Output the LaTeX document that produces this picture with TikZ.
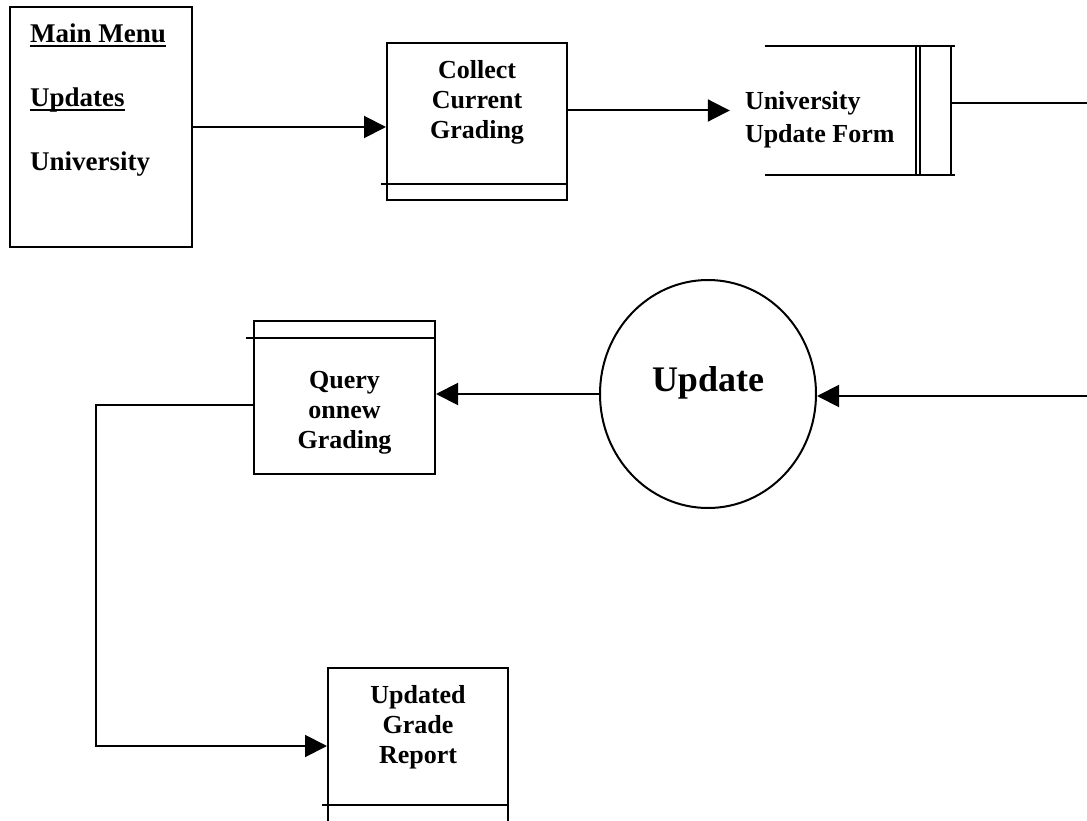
\documentclass[tikz,border=0pt]{standalone}
\usepackage{fontspec}
\setmainfont{Liberation Serif}
\usetikzlibrary{arrows.meta,positioning,shapes.geometric}
\newcommand{\menuul}[1]{{\setbox0=\hbox{#1}\rlap{\rule[-4.5pt]{\wd0}{2pt}}\box0}}
\tikzset{
    proc-box/.style = {draw, rectangle, line width=2pt, inner sep=0pt},
    store-line/.style = {line width=2pt},
    flow-arrow/.style = {line width=2pt, -{Triangle[length=22pt, width=22pt]}},
    box-text/.style = {inner sep=0pt, align=center, font=\fontsize{26}{30}\selectfont\bfseries},
    menu-text/.style = {inner sep=0pt, align=left, font=\fontsize{27}{64}\selectfont\bfseries},
    bubble/.style = {draw, ellipse, line width=2pt, minimum width=216pt, minimum height=228pt},
    bubble-text/.style = {inner sep=0pt, font=\fontsize{36}{40}\selectfont\bfseries},
}

\begin{document}
\begin{tikzpicture}[x=1pt, y=-1pt]
\useasboundingbox (0,0) rectangle (1087,821);

\node[proc-box, minimum width=182pt, minimum height=240pt] (menu) at (101,127) {};
\node[menu-text, below right=18pt and 21pt of menu.north west] (menu-items)
    {\menuul{Main Menu}\\\menuul{Updates}\\University};

\node[proc-box, minimum width=180pt, minimum height=157pt] (collect) at (477,121.5) {};
\node[box-text, below=18pt of collect.north] (collect-text) {Collect\\Current\\Grading};
\draw[store-line] ([xshift=-5pt, yshift=17pt]collect.south west) -- ([yshift=17pt]collect.south east);

\node[rectangle, inner sep=0pt, minimum width=206pt, minimum height=129pt] (form) at (848,110.5) {};
\node[box-text, align=left, font=\fontsize{26}{33}\selectfont\bfseries,
    below right=45pt and 0pt of form.north west] (form-text) {University\\Update Form};
\draw[store-line] ([xshift=20pt]form.north west) -- ([xshift=4pt]form.north east);
\draw[store-line] ([xshift=20pt]form.south west) -- ([xshift=4pt]form.south east);
\draw[store-line] ([xshift=-35pt]form.north east) -- ([xshift=-35pt]form.south east);
\draw[store-line] ([xshift=-31pt]form.north east) -- ([xshift=-31pt]form.south east);
\draw[store-line] (form.north east) -- (form.south east);

\node[bubble] (upd) at (708,394) {};
\node[bubble-text, anchor=base] (upd-text) at ([yshift=3pt]upd.center) {Update};

\node[proc-box, minimum width=181pt, minimum height=153pt] (query) at (344.5,397.5) {};
\node[box-text, below=51pt of query.north] (query-text) {Query\\onnew\\Grading};
\draw[store-line] ([xshift=-7pt, yshift=-18pt]query.north west) -- ([yshift=-18pt]query.north east);

\node[proc-box, minimum width=180pt, minimum height=156pt] (report) at (418,746) {};
\node[box-text, below=18pt of report.north] (report-text) {Updated\\Grade\\Report};
\draw[store-line] ([xshift=-5pt, yshift=20pt]report.south west) -- ([yshift=20pt]report.south east);

\coordinate (right-out) at (1087,103);
\coordinate (right-in) at (1087,396);
\draw[flow-arrow] (menu.east) -- (menu.east -| collect.west);
\draw[flow-arrow] (form.west -| collect.east) -- ([xshift=-15pt]form.west);
\draw[store-line] (form.east |- right-out) -- (right-out);
\draw[flow-arrow] (right-in) -- (right-in -| upd.east);
\draw[flow-arrow] (upd.west) -- (upd.west -| query.east);
\draw[flow-arrow] ([yshift=-7.5pt]query.west) -- ++(-157,0) |- (report.west);
\end{tikzpicture}
\end{document}
